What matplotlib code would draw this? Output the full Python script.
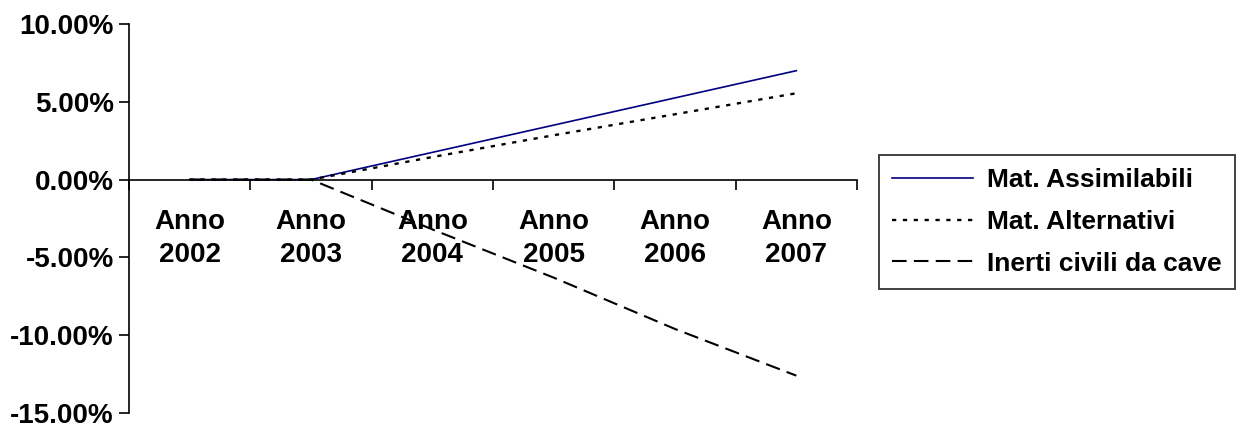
import numpy as np
import matplotlib.pyplot as plt

# Data (percent change)
years = ["Anno\n2002", "Anno\n2003", "Anno\n2004", "Anno\n2005", "Anno\n2006", "Anno\n2007"]
assimilabili = [0.0, 0.0, 1.75, 3.5, 5.25, 7.0]
alternativi = [0.0, 0.0, 1.45, 2.85, 4.2, 5.55]
inerti = [0.0, 0.0, -3.2, -6.3, -9.6, -12.6]
y_ticks = [-15, -10, -5, 0, 5, 10]
y_tick_labels = ["-15.00%", "-10.00%", "-5.00%", "0.00%", "5.00%", "10.00%"]

plt.rcParams['font.family'] = ['Liberation Sans', 'DejaVu Sans']
plt.rcParams['font.weight'] = 'bold'

fig = plt.figure(figsize=(12.56, 4.26), dpi=100)
ax = fig.add_axes([129 / 1256, (426 - 413) / 426, (857 - 129) / 1256, (413 - 24) / 426])

x = np.arange(len(years))
ax.plot(x, assimilabili, color='#000080', lw=1.2, label="Mat. Assimilabili")
ax.plot(x, alternativi, color='black', lw=1.7, linestyle=(0, (1.8, 2.8)), label="Mat. Alternativi")
ax.plot(x, inerti, color='black', lw=1.5, linestyle=(0, (7, 3.5)), label="Inerti civili da cave")

ax.set_xlim(-0.5, len(years) - 0.5)
ax.set_ylim(-15, 10)

# y axis
ax.set_yticks(y_ticks, labels=y_tick_labels, fontsize=20, fontweight='bold')
ax.tick_params(axis='y', direction='out', length=7, width=1.2, pad=4)

# x axis crossing at zero, ticks between categories, labels at centres
ax.spines['bottom'].set_position(('data', 0))
ax.spines['top'].set_visible(False)
ax.spines['right'].set_visible(False)
ax.spines['bottom'].set_linewidth(1.2)
ax.spines['left'].set_linewidth(1.2)
ax.set_xticks(np.arange(-0.5, len(years)), labels=[])
ax.tick_params(axis='x', which='major', direction='out', length=7, width=1.2)
ax.set_xticks(x, labels=years, minor=True)
ax.tick_params(axis='x', which='minor', length=0, pad=21, labelsize=20)
for lbl in ax.get_xticklabels(minor=True):
    lbl.set_fontweight('bold')
    lbl.set_linespacing(1.35)

leg = fig.legend(loc='upper left', bbox_to_anchor=(879 / 1256, (426 - 155) / 426),
                 fontsize=19, frameon=True, fancybox=False, handlelength=3.05,
                 handletextpad=0.55, labelspacing=0.67, borderpad=0.5, borderaxespad=0)
leg.get_frame().set_edgecolor('black')
leg.get_frame().set_linewidth(1.3)
for t in leg.get_texts():
    t.set_fontweight('bold')

fig.savefig("out.png", dpi=100)
